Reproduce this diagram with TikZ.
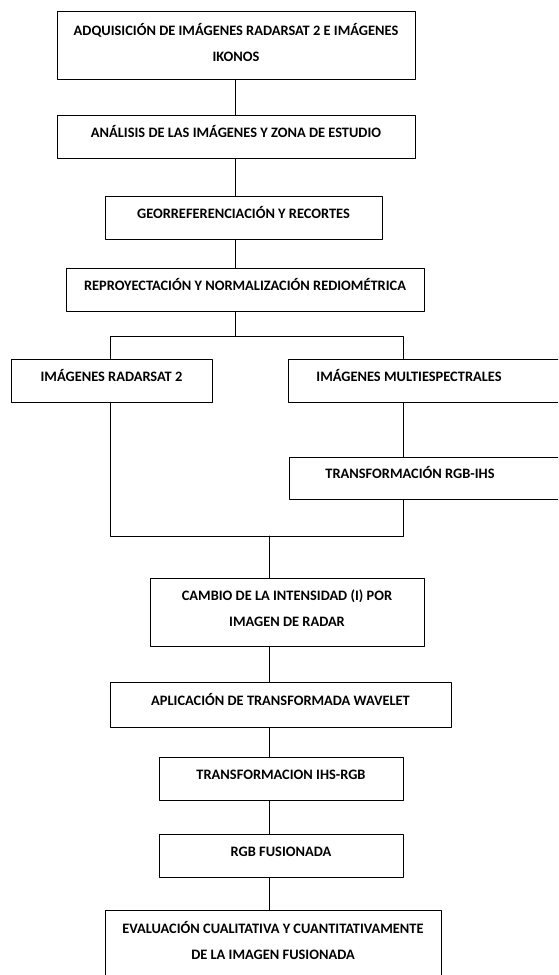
\documentclass[tikz,border=0pt]{standalone}
\usepackage{fontspec}
\setmainfont{Carlito}
\usepackage{tikz}

\begin{document}
\begin{tikzpicture}[x=1pt,y=-1pt, line cap=round,line join=round,
  caja/.style={draw, line width=1pt, align=center, inner sep=0pt,
    minimum height=43pt, font=\fontsize{14.4}{26}\selectfont\bfseries},
  corta/.style={caja, text height=7pt, text depth=6pt},
  larga/.style={caja, minimum height=68pt},
  linea/.style={line width=1pt}]
\useasboundingbox (0,0) rectangle (558,975);
\clip (0,0) rectangle (558,975);
% ejes de los conectores
\coordinate (eje) at (235,336);
\coordinate (izq) at (110,336);
\coordinate (der) at (403,336);
\coordinate (union) at (269,536);
% cajas
\node[larga, minimum width=358pt] (adq) at (236,45) {ADQUISICIÓN DE IMÁGENES RADARSAT 2 E IMÁGENES\\IKONOS\rule[-6pt]{0pt}{0pt}};
\node[corta, minimum width=358pt] (ana) at (236,137) {ANÁLISIS DE LAS IMÁGENES Y ZONA DE ESTUDIO};
\node[corta, minimum width=277pt] (geo) at (243.5,217.5) {GEORREFERENCIACIÓN Y RECORTES};
\node[corta, minimum width=358pt] (rep) at (245,289.5) {REPROYECTACIÓN Y NORMALIZACIÓN REDIOMÉTRICA};
\node[corta, minimum width=201pt] (rad) at (111.5,380.5) {IMÁGENES RADARSAT 2};
\node[corta, minimum width=278pt] (multi) at (427,380.5) {IMÁGENES MULTIESPECTRALES\hspace*{36pt}};
\node[corta, minimum width=278pt, minimum height=42pt] (trans) at (428,478) {TRANSFORMACIÓN RGB-IHS\hspace*{36pt}};
\node[larga, minimum width=274pt] (cambio) at (287,612) {CAMBIO DE LA INTENSIDAD (I) POR\\IMAGEN DE RADAR\rule[-7pt]{0pt}{0pt}};
\node[corta, minimum width=341pt, minimum height=45pt] (apl) at (280.5,704.5) {APLICACIÓN DE TRANSFORMADA WAVELET};
\node[corta, minimum width=244pt] (ihs) at (281,778.5) {TRANSFORMACION IHS-RGB};
\node[corta, minimum width=244pt] (fus) at (281,855.5) {RGB FUSIONADA};
\node[caja, minimum width=336pt, minimum height=86pt] (eva) at (273,953) {EVALUACIÓN CUALITATIVA Y CUANTITATIVAMENTE\\DE LA IMAGEN FUSIONADA\\\mbox{}};
% conectores
\draw[linea] (adq.south -| eje) -- (ana.north -| eje);
\draw[linea] (ana.south -| eje) -- (geo.north -| eje);
\draw[linea] (geo.south -| eje) -- (rep.north -| eje);
\draw[linea] (rep.south -| eje) -- (eje);
\draw[linea] (rad.north -| izq) -- (izq) -- (der) -- (multi.north -| der);
\draw[linea] (multi.south -| der) -- (trans.north -| der);
\draw[linea] (rad.south -| izq) -- (izq |- union) -- (der |- union) -- (trans.south -| der);
\draw[linea] (union) -- (cambio.north -| union);
\draw[linea] (cambio.south -| union) -- (apl.north -| union);
\draw[linea] (apl.south -| union) -- (ihs.north -| union);
\draw[linea] (ihs.south -| union) -- (fus.north -| union);
\draw[linea] (fus.south -| union) -- (eva.north -| union);
\end{tikzpicture}
\end{document}
